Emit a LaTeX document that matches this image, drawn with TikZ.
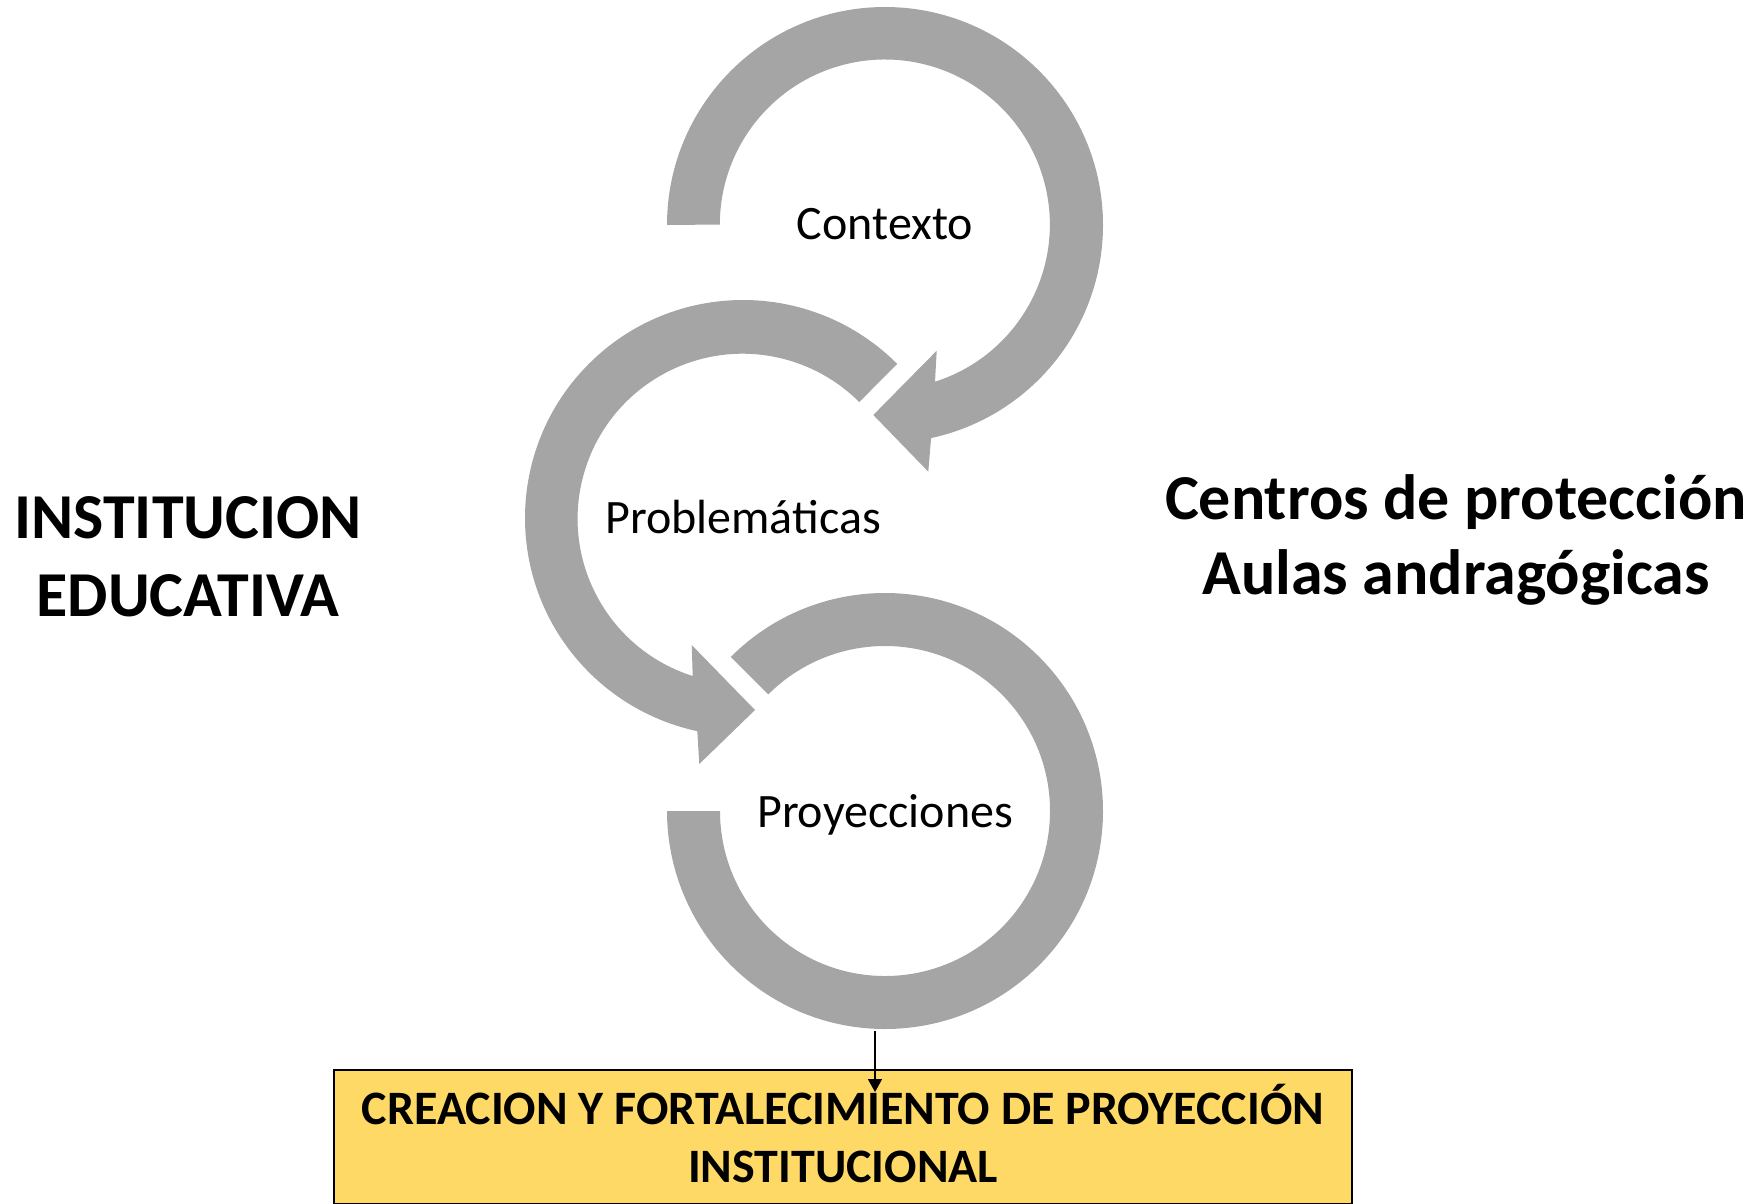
\documentclass[tikz,border=0pt]{standalone}
\usepackage{fontspec}
\setmainfont{Carlito}
\usetikzlibrary{arrows.meta}
\definecolor{ringgray}{HTML}{A5A5A5}
\definecolor{boxgold}{HTML}{FFD966}
\begin{document}
\begin{tikzpicture}[x=1pt,y=-1pt,
  ring/.style={fill=ringgray},
  lbl/.style={font=\fontsize{48}{58}\selectfont, anchor=base, inner sep=0pt},
  side/.style={font=\bfseries\fontsize{64}{74}\selectfont, anchor=base, inner sep=0pt},
  goal/.style={draw=black, line width=1.5pt, fill=boxgold, minimum width=1018pt, minimum height=134pt, text depth=8pt, align=center, font=\bfseries\fontsize{48}{58}\selectfont},
  conn/.style={line width=1.5pt, -{Triangle[length=13pt,width=14pt]}}]
\useasboundingbox (0,0) rectangle (1760,1203);
\clip (0,0) rectangle (1760,1203);

\coordinate (c1) at (885,225);
\coordinate (c2) at (743,518);
\coordinate (c3) at (885,811);

% ring 1 (Contexto) with head
\fill[ring] (c1) ++(180:218) arc[start angle=180,end angle=437.8,radius=218]
  -- (928.3,471.7) -- (873.3,415) -- (936.7,350.7) -- (935,381.7)
  arc[start angle=432.3,end angle=180,radius=165] -- cycle;

% ring 2 (Problematicas) with head
\fill[ring] (c2) ++(315:218) arc[start angle=315,end angle=102.1,radius=218]
  -- (699.3,764) -- (755,710) -- (691.7,645) -- (692.7,676)
  arc[start angle=107.6,end angle=315,radius=165] -- cycle;

% ring 3 (Proyecciones)
\fill[ring] (c3) ++(225:218) arc[start angle=225,end angle=540,radius=218]
  -- ++(53,0) arc[start angle=540,end angle=225,radius=165] -- cycle;

\node[lbl] (ctx) at (885,239) {Contexto};
\node[lbl] (prob) at (743,533) {Problemáticas};
\node[lbl] (proy) at (885,827) {Proyecciones};

\node[side] (ie1) at (188,538) {INSTITUCION};
\node[side] (ie2) at (188,616) {EDUCATIVA};
\node[side] (cp1) at (1456,519) {Centros de protección};
\node[side] (cp2) at (1456,594) {Aulas andragógicas};

\node[goal] (goal) at (843,1137) {CREACION Y FORTALECIMIENTO DE PROYECCIÓN\\INSTITUCIONAL};

\coordinate (cs) at (875,1031);
\coordinate (ce) at (875,1092);
\draw[conn] (cs) -- (ce);
\end{tikzpicture}
\end{document}
